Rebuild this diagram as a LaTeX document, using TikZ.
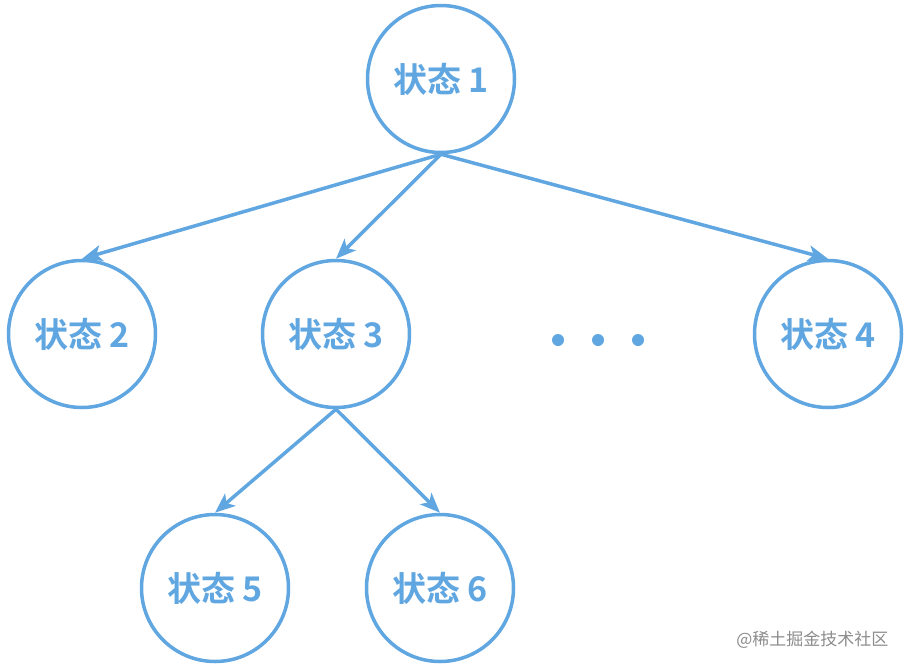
\documentclass[tikz,border=0pt]{standalone}
\usepackage{fontspec}
\newfontfamily\cjk{Noto Sans CJK SC Bold}
\newfontfamily\cjkr{Noto Sans CJK SC}
\usetikzlibrary{arrows.meta}
\definecolor{sblue}{RGB}{96,166,224}
\begin{document}
\begin{tikzpicture}[x=1pt,y=-1pt,
  state/.style={circle,draw=sblue,line width=3.5pt,minimum size=147pt,inner sep=0pt,
    text=sblue,font=\cjk\fontsize{34}{38}\selectfont},
  conn/.style={draw=sblue,line width=3.5pt,-{Stealth[length=20pt,width=16pt,inset=5pt]}},
  dot/.style={circle,fill=sblue,minimum size=12pt,inner sep=0pt}]
\useasboundingbox (0,0) rectangle (910,670);
\node[state] (s1) at (441,79) {状态 1};
\node[state] (s2) at (82,334) {状态 2};
\node[state] (s3) at (336,334) {状态 3};
\node[state] (s4) at (828,334) {状态 4};
\node[state] (s5) at (215,588) {状态 5};
\node[state] (s6) at (440,588) {状态 6};
\node[dot] (d1) at (558,340) {};
\node[dot] (d2) at (598,340) {};
\node[dot] (d3) at (638,340) {};
\draw[conn] (s1.south) -- (s2.north);
\draw[conn] (s1.south) -- (s3.north);
\draw[conn] (s1.south) -- (s4.north);
\draw[conn] (s3.south) -- (s5.north);
\draw[conn] (s3.south) -- (s6.north);
\node[text=black!45,font=\cjkr\fontsize{17}{20}\selectfont,anchor=east] (wm) at (892,640) {@稀土掘金技术社区};
\end{tikzpicture}
\end{document}
